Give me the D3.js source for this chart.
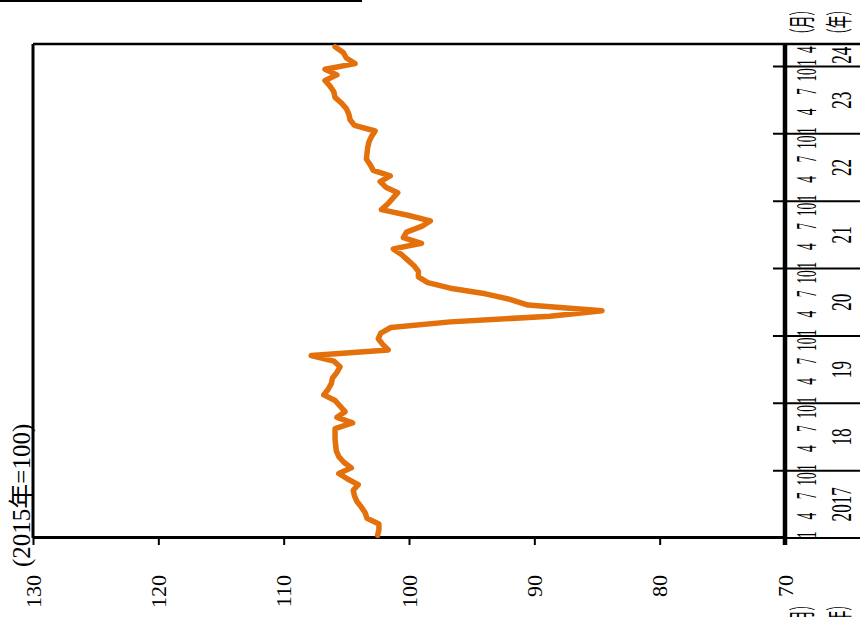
<!DOCTYPE html>
<html>
<head>
<meta charset="utf-8">
<script src="https://cdn.jsdelivr.net/npm/d3@7"></script>
<style>
  body { margin: 0; background: #fff; }
  text { font-family: "Liberation Serif", "Noto Sans CJK JP", serif; fill: #000; }
</style>
</head>
<body>
<div id="chart"></div>
<script>
/* DATA (monthly index, 2015 = 100) */
const years = ["2017", "18", "19", "20", "21", "22", "23", "24"];
const monthLabels = ["1", "4", "7", "10"];
const valueTicks = [130, 120, 110, 100, 90, 80, 70];

const v2017 = [102.5, 102.4, 102.4, 103.35, 103.5, 103.8, 104.15, 104.35, 104.45, 104.05, 104.9, 105.6];
const v2018 = [104.6, 105.2, 105.6, 105.8, 105.85, 105.9, 105.9, 105.9, 104.5, 105.75, 105.1, 105.5];
const v2019 = [105.9, 106.8, 106.45, 106.2, 106.1, 105.75, 105.5, 106.0, 107.8, 101.65, 102.1, 102.45];
const v2020 = [102.25, 101.45, 96.7, 88.75, 84.6, 90.5, 91.95, 93.9, 96.7, 98.5, 99.25, 99.25];
const v2021 = [99.6, 100.1, 100.6, 101.25, 99.0, 100.45, 100.2, 99.0, 98.3, 100.1, 102.2, 101.7];
const v2022 = [101.3, 100.9, 101.85, 102.3, 101.5, 102.85, 103.1, 103.4, 103.35, 103.3, 103.2, 103.0];
const v2023 = [102.7, 104.35, 104.7, 104.8, 105.0, 105.4, 105.9, 106.0, 106.3, 106.7, 105.75, 106.7];
const v2024 = [104.3, 105.0, 105.25, 105.9];

const values = [].concat(v2017, v2018, v2019, v2020, v2021, v2022, v2023, v2024);

/* CONSTANTS */
const width = 860;
const height = 617;
const nMonths = 88;

const svg = d3.select("#chart")
    .append("svg")
    .attr("width", width)
    .attr("height", height)
    .style("display", "block")
    .style("background", "#fff");

// thin rule at the very top of the page
svg.append("line")
    .attr("x1", 0).attr("x2", 362)
    .attr("y1", 1).attr("y2", 1)
    .attr("stroke", "#000")
    .attr("stroke-width", 2);

// the chart is drawn upright, then turned a quarter turn counter-clockwise
const g = svg.append("g")
    .attr("transform", "translate(0," + height + ") rotate(-90)");

/* SCALES */
const x = d3.scaleLinear()
    .domain([0, nMonths])
    .range([79, 573]);

const y = d3.scaleLinear()
    .domain([70, 130])
    .range([785, 33]);

/* FRAME */
g.append("line")
    .attr("x1", x(0)).attr("x2", x(nMonths))
    .attr("y1", y(130)).attr("y2", y(130))
    .attr("stroke", "#000").attr("stroke-width", 3);

// year boundaries: short tick inside, long line through the label rows
const bounds = d3.range(0, nMonths, 12).concat([nMonths]);
g.selectAll(".yearline")
    .data(bounds)
    .join("line")
    .attr("class", "yearline")
    .attr("x1", d => x(d)).attr("x2", d => x(d))
    .attr("y1", d => d === nMonths ? y(130) : y(70) - 12)
    .attr("y2", 860)
    .attr("stroke", "#000")
    .attr("stroke-width", d => d === nMonths ? 2.5 : 2);

// value axis
const yAxis = d3.axisLeft(y)
    .tickValues(valueTicks)
    .tickSize(7)
    .tickSizeOuter(0)
    .tickPadding(30)
    .tickFormat(d3.format("d"));

const yAxisG = g.append("g")
    .attr("transform", "translate(" + x(0) + ",0)")
    .call(yAxis);
yAxisG.select(".domain").attr("stroke-width", 3);
yAxisG.selectAll(".tick line").attr("stroke-width", 2);
yAxisG.selectAll(".tick text").attr("font-size", 22);

// time axis line
g.append("line")
    .attr("x1", x(0) - 7).attr("x2", x(nMonths))
    .attr("y1", y(70)).attr("y2", y(70))
    .attr("stroke", "#000").attr("stroke-width", 4.5);

/* LINE */
const line = d3.line()
    .x((d, i) => x(i + 0.5))
    .y(d => y(d));

g.append("path")
    .datum(values)
    .attr("d", line)
    .attr("fill", "none")
    .attr("stroke", "#E4700C")
    .attr("stroke-width", 5.5)
    .attr("stroke-linejoin", "round")
    .attr("stroke-linecap", "round");

/* TIME LABELS (narrow type, as in the source) */
const monthPos = [0.55, 3.9, 7.5, 10.5];
const monthPosLast = [0.7, 3.0];

const monthData = [];
years.forEach((yr, k) => {
    const start = k * 12;
    const last = k === years.length - 1;
    const pos = last ? monthPosLast : monthPos;
    pos.forEach((p, j) => monthData.push({ label: monthLabels[j], m: start + p }));
});

g.selectAll(".month")
    .data(monthData)
    .join("text")
    .attr("class", "month")
    .attr("transform", d => "translate(" + x(d.m) + ",806) scale(0.45,1)")
    .attr("text-anchor", "middle")
    .attr("dominant-baseline", "central")
    .attr("font-size", 30)
    .text(d => d.label);

g.selectAll(".year")
    .data(years)
    .join("text")
    .attr("class", "year")
    .attr("transform", (d, k) => {
        const a = k * 12, b = Math.min(nMonths, a + 12);
        return "translate(" + x((a + b) / 2) + ",841) scale(0.57,1)";
    })
    .attr("text-anchor", "middle")
    .attr("dominant-baseline", "central")
    .attr("font-size", 30)
    .text(d => d);

// unit labels at the end of the time axis
const units = [{ t: "（月）", y: 803 }, { t: "（年）", y: 840 }];
g.selectAll(".unit")
    .data(units)
    .join("text")
    .attr("class", "unit")
    .attr("transform", d => "translate(" + (x(nMonths) + 3) + "," + d.y + ") scale(0.47,1)")
    .attr("dominant-baseline", "central")
    .attr("font-size", 27)
    .text(d => d.t);

// the same unit labels repeated, mostly below the page edge
g.selectAll(".unit2")
    .data(units)
    .join("text")
    .attr("class", "unit2")
    .attr("transform", d => "translate(19," + d.y + ") scale(0.47,1)")
    .attr("text-anchor", "end")
    .attr("dominant-baseline", "central")
    .attr("font-size", 27)
    .text(d => d.t);

// index base note
g.append("text")
    .attr("x", 50)
    .attr("y", 21)
    .attr("dominant-baseline", "central")
    .attr("font-size", 25)
    .text("(2015年=100)");
</script>
</body>
</html>
